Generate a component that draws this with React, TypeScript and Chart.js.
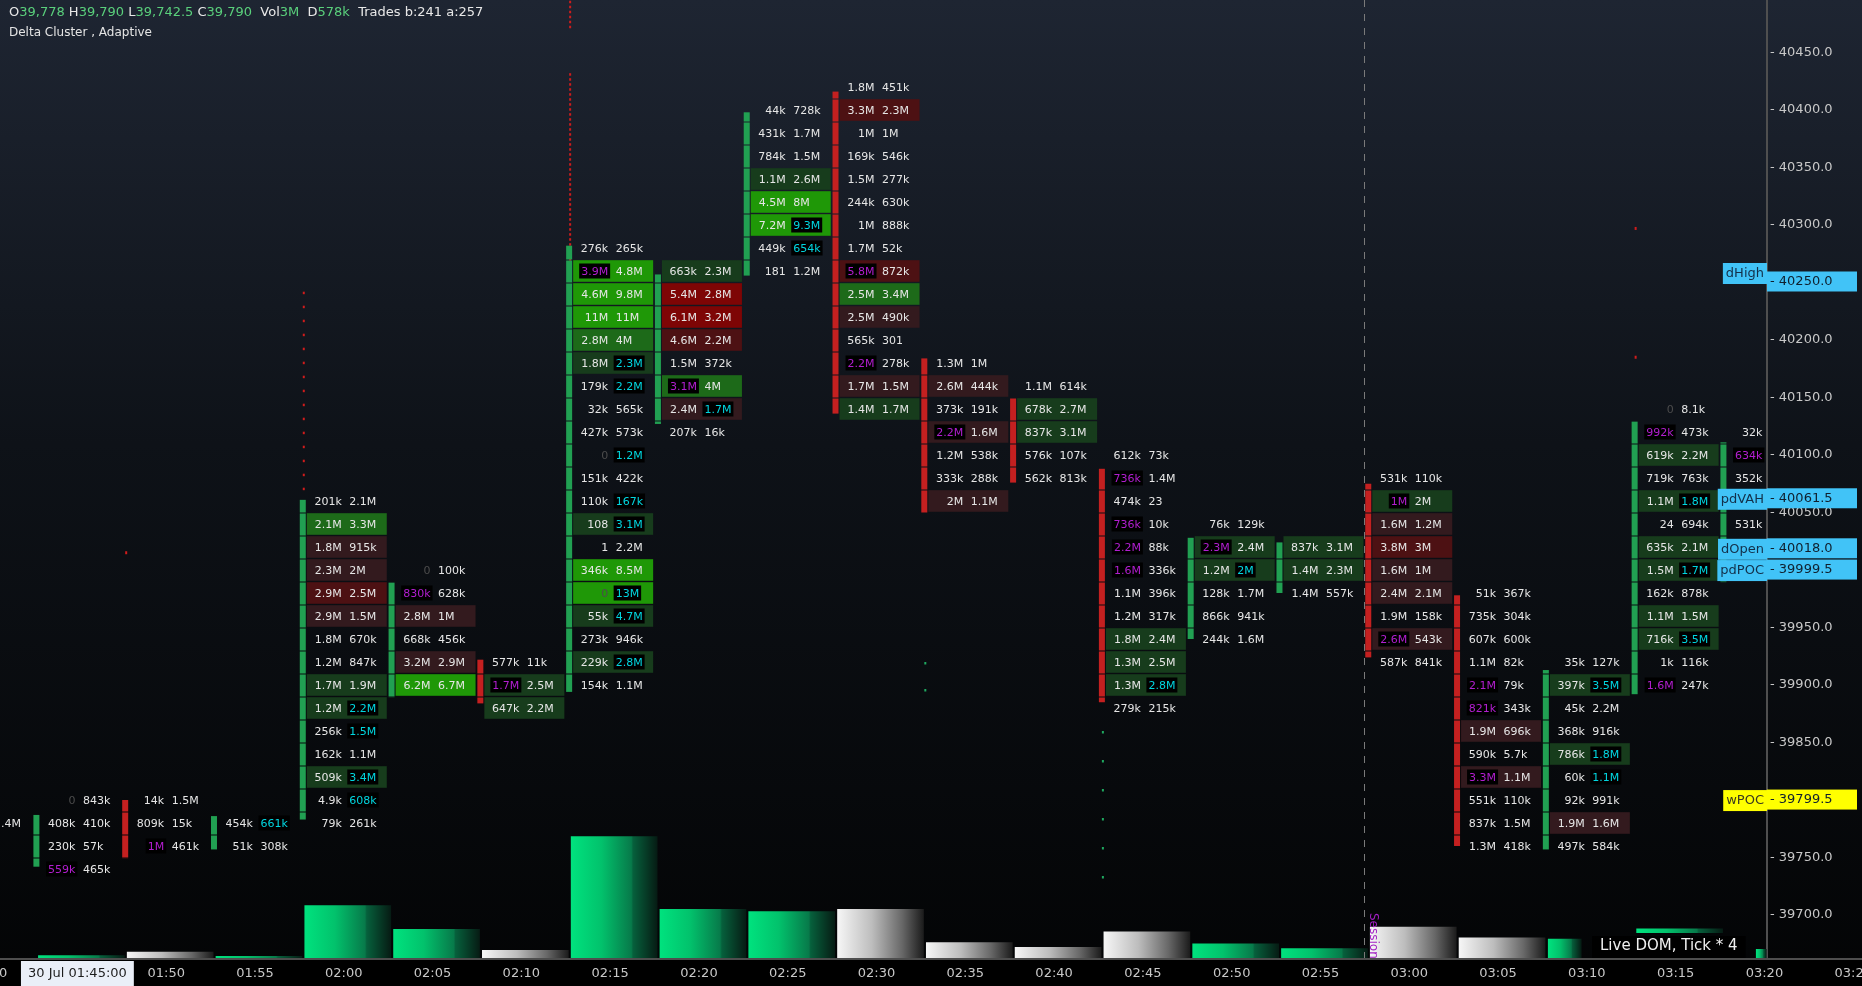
import React, { useEffect, useRef } from 'react';
import { Chart, registerables } from 'chart.js';

Chart.register(...registerables);

// ---------------- DATA ----------------
const timeLabels = ['01:40', '01:45', '01:50', '01:55', '02:00', '02:05', '02:10', '02:15', '02:20', '02:25', '02:30',
  '02:35', '02:40', '02:45', '02:50', '02:55', '03:00', '03:05', '03:10', '03:15', '03:20', '03:25'];
const FIRST_LABEL_SLOT = -1;
const crosshairSlot = 0;
const crosshairText = '30 Jul 01:45:00';

// rows: "bid ask shade flags"  (shade: -3..3, flags: a=ask imbalance, b=bid imbalance, z=zero bid)
const c0140 = ['2.1M 1.4M 0'];
const c0145 = ['0 843k 0 z', '408k 410k 0', '230k 57k 0', '559k 465k 0 b'];
const c0150 = ['14k 1.5M 0', '809k 15k 0', '1M 461k 0 b'];
const c0155 = ['454k 661k 0 a', '51k 308k 0'];
const c0200 = ['201k 2.1M 0', '2.1M 3.3M 2', '1.8M 915k -1', '2.3M 2M -1', '2.9M 2.5M -2', '2.9M 1.5M -1',
  '1.8M 670k 0', '1.2M 847k 0', '1.7M 1.9M 1', '1.2M 2.2M 1 a', '256k 1.5M 0 a', '162k 1.1M 0',
  '509k 3.4M 1 a', '4.9k 608k 0 a', '79k 261k 0'];
const c0205 = ['0 100k 0 z', '830k 628k 0 b', '2.8M 1M -1', '668k 456k 0', '3.2M 2.9M -1', '6.2M 6.7M 3'];
const c0210 = ['577k 11k 0', '1.7M 2.5M 1 b', '647k 2.2M 1'];
const c0215 = ['276k 265k 0', '3.9M 4.8M 3 b', '4.6M 9.8M 3', '11M 11M 3', '2.8M 4M 2', '1.8M 2.3M 1 a',
  '179k 2.2M 0 a', '32k 565k 0', '427k 573k 0', '0 1.2M 0 za', '151k 422k 0', '110k 167k 0 a',
  '108 3.1M 1 a', '1 2.2M 0', '346k 8.5M 3', '0 13M 3 za', '55k 4.7M 1 a', '273k 946k 0',
  '229k 2.8M 1 a', '154k 1.1M 0'];
const c0220 = ['663k 2.3M 1', '5.4M 2.8M -3', '6.1M 3.2M -3', '4.6M 2.2M -2', '1.5M 372k 0',
  '3.1M 4M 2 b', '2.4M 1.7M -1 a', '207k 16k 0'];
const c0225 = ['44k 728k 0', '431k 1.7M 0', '784k 1.5M 0', '1.1M 2.6M 1', '4.5M 8M 3', '7.2M 9.3M 3 a',
  '449k 654k 0 a', '181 1.2M 0'];
const c0230 = ['1.8M 451k 0', '3.3M 2.3M -2', '1M 1M 0', '169k 546k 0', '1.5M 277k 0', '244k 630k 0',
  '1M 888k 0', '1.7M 52k 0', '5.8M 872k -2 b', '2.5M 3.4M 2', '2.5M 490k -1', '565k 301 0',
  '2.2M 278k 0 b', '1.7M 1.5M -1', '1.4M 1.7M 1'];
const c0235 = ['1.3M 1M 0', '2.6M 444k -1', '373k 191k 0', '2.2M 1.6M -1 b', '1.2M 538k 0', '333k 288k 0',
  '2M 1.1M -1'];
const c0240 = ['1.1M 614k 0', '678k 2.7M 1', '837k 3.1M 1', '576k 107k 0', '562k 813k 0'];
const c0245 = ['612k 73k 0', '736k 1.4M 0 b', '474k 23 0', '736k 10k 0 b', '2.2M 88k 0 b', '1.6M 336k 0 b',
  '1.1M 396k 0', '1.2M 317k 0', '1.8M 2.4M 1', '1.3M 2.5M 1', '1.3M 2.8M 1 a', '279k 215k 0'];
const c0250 = ['76k 129k 0', '2.3M 2.4M 1 b', '1.2M 2M 1 a', '128k 1.7M 0', '866k 941k 0', '244k 1.6M 0'];
const c0255 = ['837k 3.1M 1', '1.4M 2.3M 1', '1.4M 557k 0'];
const c0300 = ['531k 110k 0', '1M 2M 1 b', '1.6M 1.2M -1', '3.8M 3M -2', '1.6M 1M -1', '2.4M 2.1M -1',
  '1.9M 158k 0', '2.6M 543k -1 b', '587k 841k 0'];
const c0305 = ['51k 367k 0', '735k 304k 0', '607k 600k 0', '1.1M 82k 0', '2.1M 79k 0 b', '821k 343k 0 b',
  '1.9M 696k -1', '590k 5.7k 0', '3.3M 1.1M -1 b', '551k 110k 0', '837k 1.5M 0', '1.3M 418k 0'];
const c0310 = ['35k 127k 0', '397k 3.5M 1 a', '45k 2.2M 0', '368k 916k 0', '786k 1.8M 1 a', '60k 1.1M 0 a',
  '92k 991k 0', '1.9M 1.6M -1', '497k 584k 0'];
const c0315 = ['0 8.1k 0 z', '992k 473k 0 b', '619k 2.2M 1', '719k 763k 0', '1.1M 1.8M 1 a', '24 694k 0',
  '635k 2.1M 1', '1.5M 1.7M 1 a', '162k 878k 0', '1.1M 1.5M 1', '716k 3.5M 1 a', '1k 116k 0',
  '1.6M 247k 0 b'];
const c0320 = ['32k 95k 0', '634k 210k 0 b', '352k 1.1M 0', '1.2M 890k 0', '531k 402k 0', '412k 1.3M 0',
  '95k 640k 0'];

const clusterSlots = [-1, 0, 1, 2, 3, 4, 5, 6, 7, 8, 9, 10, 11, 12, 13, 14, 15, 16, 17, 18, 19];
const clusterRows = [c0140, c0145, c0150, c0155, c0200, c0205, c0210, c0215, c0220, c0225, c0230,
  c0235, c0240, c0245, c0250, c0255, c0300, c0305, c0310, c0315, c0320];
const clusterTops = [39780, 39800, 39800, 39780, 40060, 40000, 39920, 40280, 40260, 40400, 40420,
  40180, 40160, 40100, 40040, 40020, 40080, 39980, 39920, 40140, 40120];
const candleOpen = [39790, 39742, 39800, 39757, 39783, 39889, 39922, 39894, 40127, 40256, 40416,
  40184, 40150, 40088, 39940, 39980, 40075, 39978, 39757, 39892, 39989];
const candleClose = [39770, 39787, 39749, 39786, 40061, 39989, 39884, 40282, 40257, 40398, 40136,
  40050, 40076, 39885, 40028, 40024, 39924, 39760, 39913, 40129, 40111];
const volumes = [0, 2, 5, 1.5, 44, 24, 6.5, 102, 41, 39, 41, 13, 9, 22, 12, 8, 26, 17, 16, 24.5, 7.3];

// dotted wick marks
const markSlots = [6, 6, 3, 1, 18, 18, 10, 12];
const markHigh = [40495, 40432, 40242, 40015, 40297, 40185, 39920, 39860];
const markLow = [40472, 40262, 40062, 40015, 40297, 40185, 39896, 39716];
const markUp = [false, false, false, false, false, false, true, true];

// price levels
const levelNames = ['dHigh', 'pdVAH', 'dOpen', 'pdPOC', 'wPOC'];
const levelPrices = [40250.0, 40061.5, 40018.0, 39999.5, 39799.5];

const headerParts: [string, boolean][] = [
  ['O', false], ['39,778', true], [' H', false], ['39,790', true], [' L', false], ['39,742.5', true],
  [' C', false], ['39,790', true], ['  Vol', false], ['3M', true], ['  D', false], ['578k', true],
  ['  Trades b:241 a:257', false],
];
const subtitle = 'Delta Cluster , Adaptive';
const sessionText = 'Session';
const sessionSlot = 14.488;
const domText = 'Live DOM, Tick * 4';

// ---------------- STYLE ----------------
const Y_MAX = 40495.65;
const Y_MIN = 39662.6;
const X_MIN = -0.8717;
const X_MAX = 19.029;
const VOL_MAX = 805;
const ROW = 20;
const FONT = '"DejaVu Sans", Verdana, sans-serif';
const GREEN_SHADES = ['', '#173c1c', '#1d6a19', '#1f9807'];
const RED_SHADES = ['', '#331a1e', '#4d1113', '#7e0505'];
const CANDLE_UP = '#21a052';
const CANDLE_DOWN = '#c42020';
const TXT = '#e6e6e6';
const MAG = '#b21ed0';
const CYAN = '#00d6e0';
const DIM = '#4c4c4c';
const BLUE = '#41c3f7';

const parseRow = (s: string) => {
  const p = s.split(' ');
  return { bid: p[0], ask: p[1], shade: Number(p[2]), flags: p[3] || '' };
};

const isUp = (k: number) => candleClose[k] >= candleOpen[k];

const volGradient = (width: number) => (ctx: any) => {
  const chart = ctx.chart;
  const xs = chart.scales && chart.scales.x;
  const raw = ctx.raw;
  const fallback = raw && raw.up ? '#02c26c' : '#bdbdbd';
  if (!xs || !raw) return fallback;
  const cx = xs.getPixelForValue(raw.x);
  if (!Number.isFinite(cx)) return fallback;
  const g = chart.ctx.createLinearGradient(cx - width / 2, 0, cx + width / 2, 0);
  if (raw.up) {
    g.addColorStop(0, '#00e27e');
    g.addColorStop(0.35, '#02c26c');
    g.addColorStop(0.7, '#077a4a');
    g.addColorStop(0.72, '#06603c');
    g.addColorStop(1, '#061c14');
  } else {
    g.addColorStop(0, '#f6f6f6');
    g.addColorStop(0.4, '#bdbdbd');
    g.addColorStop(0.75, '#686868');
    g.addColorStop(1, '#1c1c1c');
  }
  return g;
};

const footprintPlugin = {
  id: 'footprint',
  beforeDraw(chart: any) {
    const { ctx, width, height, chartArea } = chart;
    ctx.save();
    const g = ctx.createLinearGradient(0, 0, 0, height);
    g.addColorStop(0, '#1e2532');
    g.addColorStop(0.45, '#0e1218');
    g.addColorStop(1, '#030405');
    ctx.fillStyle = g;
    ctx.fillRect(0, 0, width, height);
    ctx.fillStyle = '#000';
    ctx.fillRect(0, chartArea.bottom, width, height - chartArea.bottom);
    ctx.restore();
  },
  afterDatasetsDraw(chart: any) {
    const { ctx, chartArea: ca, scales } = chart;
    const xs = scales.x;
    const ys = scales.y;
    ctx.save();
    ctx.beginPath();
    ctx.rect(ca.left, ca.top, ca.right - ca.left, ca.bottom - ca.top);
    ctx.clip();

    // session dashed line
    const sx = Math.round(xs.getPixelForValue(sessionSlot)) + 0.5;
    ctx.strokeStyle = '#7a7a7a';
    ctx.lineWidth = 1;
    ctx.setLineDash([7, 7]);
    ctx.beginPath();
    ctx.moveTo(sx, ca.top);
    ctx.lineTo(sx, ca.bottom);
    ctx.stroke();
    ctx.setLineDash([]);

    // dotted wick marks
    markSlots.forEach((slot, m) => {
      const x = xs.getPixelForValue(slot) - 40;
      const yH = ys.getPixelForValue(markHigh[m]);
      const yL = ys.getPixelForValue(markLow[m]);
      ctx.fillStyle = markUp[m] ? '#1fa860' : '#d01c1c';
      const gap = markUp[m] ? (slot === 12 ? 29 : 27) : (slot === 3 ? 14 : 5);
      if (yL - yH < 1) {
        ctx.fillRect(x - 1, yH - 1.5, 2, 3);
      } else {
        for (let y = yH; y <= yL; y += gap) ctx.fillRect(x - 1, y, 2, 2.5);
      }
    });

    // clusters
    ctx.font = '11px ' + FONT;
    ctx.textBaseline = 'middle';
    ctx.textAlign = 'left';
    const drawVal = (t: string, x: number, yc: number, right: boolean, kind: string) => {
      const w = ctx.measureText(t).width;
      const x0 = right ? x - w : x;
      let color = TXT;
      if (kind === 'mag' || kind === 'cyan') {
        ctx.fillStyle = '#000';
        ctx.fillRect(x0 - 2, yc - 7.5, w + 4, 15);
        color = kind === 'mag' ? MAG : CYAN;
      } else if (kind === 'dim') color = DIM;
      ctx.fillStyle = color;
      ctx.fillText(t, x0, yc + 1);
    };

    clusterSlots.forEach((slot, k) => {
      const c = xs.getPixelForValue(slot);
      const rows = clusterRows[k].map(parseRow);
      rows.forEach((r, j) => {
        const p = clusterTops[k] - j * ROW;
        const yT = ys.getPixelForValue(p + ROW / 2);
        const yB = ys.getPixelForValue(p - ROW / 2);
        const yc = ys.getPixelForValue(p);
        if (r.shade !== 0) {
          ctx.fillStyle = r.shade > 0 ? GREEN_SHADES[r.shade] : RED_SHADES[-r.shade];
          ctx.fillRect(c - 37, yT + 0.7, 80, yB - yT - 1.4);
        }
        const bidKind = r.flags.includes('b') ? 'mag' : r.flags.includes('z') ? 'dim' : 'n';
        const askKind = r.flags.includes('a') ? 'cyan' : 'n';
        drawVal(r.bid, c - 2, yc, true, bidKind);
        drawVal(r.ask, c + 5.5, yc, false, askKind);
      });
      // candle body, segmented per price row
      const o = candleOpen[k];
      const cl = candleClose[k];
      const lo = Math.min(o, cl);
      const hi = Math.max(o, cl);
      ctx.fillStyle = cl >= o ? CANDLE_UP : CANDLE_DOWN;
      for (let b = Math.floor((lo - 10) / ROW) * ROW + 10; b < hi; b += ROW) {
        const s0 = Math.max(lo, b);
        const s1 = Math.min(hi, b + ROW);
        if (s1 <= s0) continue;
        const yTop = ys.getPixelForValue(s1) + (s1 === b + ROW ? 1 : 0);
        const yBot = ys.getPixelForValue(s0);
        ctx.fillRect(c - 44, yTop, 6, yBot - yTop);
      }
    });
    ctx.restore();
  },
  afterDraw(chart: any) {
    const { ctx, chartArea: ca, scales, width } = chart;
    const xs = scales.x;
    const ys = scales.y;
    ctx.save();

    // session label
    const sx = xs.getPixelForValue(sessionSlot);
    ctx.save();
    ctx.translate(sx + 3, 913);
    ctx.rotate(Math.PI / 2);
    ctx.font = '12px ' + FONT;
    ctx.fillStyle = '#a21fc4';
    ctx.textAlign = 'left';
    ctx.textBaseline = 'bottom';
    ctx.fillText(sessionText, 0, 0);
    ctx.restore();

    // live DOM box
    ctx.font = '15px ' + FONT;
    const dw = ctx.measureText(domText).width;
    ctx.fillStyle = '#000';
    ctx.fillRect(1592, 936, dw + 16, ca.bottom - 936);
    ctx.fillStyle = '#f0f0f0';
    ctx.textAlign = 'left';
    ctx.textBaseline = 'middle';
    ctx.fillText(domText, 1600, 946);

    // x-axis strip
    ctx.fillStyle = '#4e4e4e';
    ctx.fillRect(0, ca.bottom, width, 2);
    ctx.font = '13px ' + FONT;
    ctx.textAlign = 'center';
    ctx.textBaseline = 'middle';
    timeLabels.forEach((lab, n) => {
      const slot = FIRST_LABEL_SLOT + n;
      if (slot === crosshairSlot) return;
      ctx.fillStyle = '#c8c8c8';
      ctx.fillText(lab, xs.getPixelForValue(slot), 974);
    });
    const chx = xs.getPixelForValue(crosshairSlot);
    const cw = ctx.measureText(crosshairText).width;
    ctx.fillStyle = '#eaeff8';
    ctx.fillRect(chx - cw / 2 - 7, ca.bottom + 3, cw + 14, 986 - ca.bottom - 3);
    ctx.fillStyle = '#1c1c1c';
    ctx.fillText(crosshairText, chx, 974);

    // header
    ctx.font = '13px ' + FONT;
    ctx.textAlign = 'left';
    let hx = 9;
    headerParts.forEach(([t, val]) => {
      ctx.fillStyle = val ? '#5ad07c' : '#e8e8e8';
      ctx.fillText(t, hx, 13);
      hx += ctx.measureText(t).width;
    });
    ctx.font = '12px ' + FONT;
    ctx.fillStyle = '#e4e4e4';
    ctx.fillText(subtitle, 9, 33);

    // price level tags
    levelNames.forEach((name, n) => {
      const price = levelPrices[n];
      const yp = ys.getPixelForValue(price);
      const col = name === 'wPOC' ? '#ffff00' : BLUE;
      ctx.font = '13px ' + FONT;
      ctx.fillStyle = col;
      ctx.fillRect(ca.right, yp - 11, 90, 20);
      ctx.fillStyle = '#10202e';
      ctx.textAlign = 'left';
      ctx.fillText('- ' + price.toFixed(1), ca.right + 3, yp - 0.5);
      const tw = ctx.measureText(name).width + 6;
      const ty = name === 'dHigh' ? yp - 9 : yp;
      ctx.fillStyle = col;
      ctx.fillRect(ca.right - tw, ty - 10.5, tw, 21);
      ctx.fillStyle = name === 'wPOC' ? '#3a3a20' : '#13304a';
      ctx.fillText(name, ca.right - tw + 3, ty + 0.5);
    });
    ctx.restore();
  },
};

export default function App() {
  const ref = useRef<HTMLCanvasElement>(null);
  useEffect(() => {
    document.body.style.margin = '0';
    document.body.style.background = '#000';
    const mainData: any[] = [];
    const narrowA: any[] = [];
    const narrowB: any[] = [];
    clusterSlots.forEach((slot, k) => {
      const v = volumes[k];
      if (!v) return;
      const up = isUp(k);
      if (slot === 17) narrowA.push({ x: slot - 0.249, y: v, up });
      else if (slot === 19) narrowB.push({ x: slot - 0.036, y: v, up });
      else if (slot === 18) mainData.push({ x: slot + 0.045, y: [v - 3.2, v], up });
      else mainData.push({ x: slot + 0.045, y: v, up });
    });
    const mk = (data: any[], w: number) => ({
      type: 'bar' as const,
      data,
      yAxisID: 'y2',
      xAxisID: 'x',
      grouped: false,
      barThickness: w,
      borderWidth: 0,
      backgroundColor: volGradient(w),
    });
    const chart = new Chart(ref.current as HTMLCanvasElement, {
      type: 'bar',
      data: { datasets: [mk(mainData, 86), mk(narrowA, 33), mk(narrowB, 10)] as any },
      options: {
        animation: false,
        responsive: false,
        devicePixelRatio: 1,
        events: [],
        layout: { padding: { left: 0, right: 0, top: 0, bottom: 28 } },
        plugins: { legend: { display: false }, tooltip: { enabled: false } },
        scales: {
          x: { type: 'linear', min: X_MIN, max: X_MAX, display: false, offset: false },
          y: {
            type: 'linear',
            position: 'right',
            min: Y_MIN,
            max: Y_MAX,
            afterFit: (s: any) => {
              s.width = 95;
              s.paddingTop = 0;
              s.paddingBottom = 0;
            },
            grid: { display: false, drawTicks: false },
            border: { display: true, color: '#4f4f4f', width: 2 },
            ticks: {
              stepSize: 50,
              includeBounds: false,
              padding: 3,
              color: '#c8c8c8',
              font: { family: FONT, size: 13 },
              callback: (v: any) => '- ' + Number(v).toFixed(1),
            },
          },
          y2: { type: 'linear', display: false, min: 0, max: VOL_MAX },
        },
      } as any,
      plugins: [footprintPlugin],
    });
    return () => chart.destroy();
  }, []);
  return (
    <div style={{ position: 'fixed', left: 0, top: 0, width: 1862, height: 986 }}>
      <canvas ref={ref} width={1862} height={986} style={{ display: 'block', width: 1862, height: 986 }} />
    </div>
  );
}
